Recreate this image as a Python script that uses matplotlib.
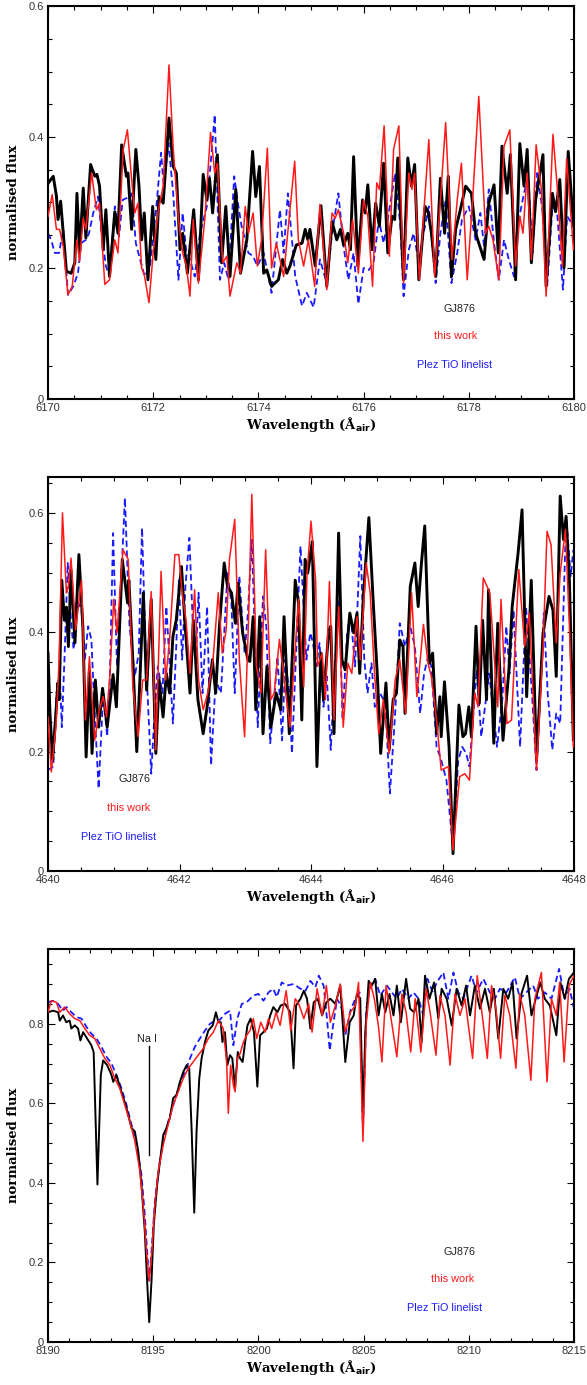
import numpy as np
import matplotlib
matplotlib.use("Agg")
import matplotlib.pyplot as plt
from matplotlib.ticker import MultipleLocator, FuncFormatter

# ---------------- data: (wavelength, normalised flux) ----------------
# panel 1: 6170-6180 A
p1_gj876 = [
    (6170.00, 0.329), (6170.10, 0.340), (6170.16, 0.310), (6170.19, 0.274), (6170.24, 0.302),
    (6170.35, 0.195), (6170.44, 0.192), (6170.51, 0.208), (6170.55, 0.314), (6170.60, 0.223),
    (6170.67, 0.322), (6170.72, 0.246), (6170.81, 0.358), (6170.89, 0.340), (6170.93, 0.343),
    (6170.98, 0.325), (6171.05, 0.228), (6171.10, 0.289), (6171.17, 0.187), (6171.27, 0.286),
    (6171.33, 0.253), (6171.40, 0.388), (6171.49, 0.340), (6171.52, 0.345), (6171.59, 0.259),
    (6171.67, 0.381), (6171.73, 0.325), (6171.78, 0.243), (6171.83, 0.284), (6171.90, 0.182),
    (6171.99, 0.294), (6172.05, 0.213), (6172.11, 0.309), (6172.19, 0.299), (6172.30, 0.429),
    (6172.38, 0.355), (6172.44, 0.345), (6172.51, 0.228), (6172.56, 0.253), (6172.65, 0.192),
    (6172.77, 0.289), (6172.86, 0.182), (6172.95, 0.343), (6173.02, 0.304), (6173.07, 0.337),
    (6173.13, 0.284), (6173.22, 0.373), (6173.30, 0.208), (6173.38, 0.294), (6173.46, 0.187),
    (6173.57, 0.320), (6173.66, 0.192), (6173.78, 0.243), (6173.89, 0.378), (6173.95, 0.309),
    (6174.02, 0.355), (6174.10, 0.192), (6174.16, 0.197), (6174.25, 0.172), (6174.38, 0.182),
    (6174.46, 0.213), (6174.54, 0.192), (6174.60, 0.203), (6174.72, 0.235), (6174.83, 0.238),
    (6174.89, 0.259), (6174.94, 0.243), (6174.98, 0.259), (6175.08, 0.203), (6175.19, 0.295),
    (6175.30, 0.172), (6175.40, 0.271), (6175.49, 0.243), (6175.56, 0.259), (6175.62, 0.235),
    (6175.70, 0.253), (6175.75, 0.228), (6175.81, 0.370), (6175.89, 0.203), (6175.98, 0.304),
    (6176.03, 0.284), (6176.08, 0.327), (6176.16, 0.228), (6176.23, 0.299), (6176.30, 0.264),
    (6176.38, 0.360), (6176.46, 0.223), (6176.54, 0.279), (6176.59, 0.274), (6176.65, 0.368),
    (6176.76, 0.182), (6176.84, 0.368), (6176.91, 0.325), (6176.97, 0.358), (6177.05, 0.182),
    (6177.17, 0.294), (6177.23, 0.284), (6177.29, 0.253), (6177.37, 0.187), (6177.46, 0.337),
    (6177.54, 0.253), (6177.61, 0.340), (6177.67, 0.187), (6177.75, 0.259), (6177.84, 0.289),
    (6177.94, 0.325), (6178.05, 0.314), (6178.13, 0.253), (6178.29, 0.213), (6178.38, 0.299),
    (6178.48, 0.327), (6178.56, 0.223), (6178.63, 0.386), (6178.73, 0.314), (6178.79, 0.373),
    (6178.89, 0.182), (6178.97, 0.390), (6179.05, 0.325), (6179.11, 0.381), (6179.19, 0.208),
    (6179.27, 0.304), (6179.41, 0.373), (6179.47, 0.172), (6179.59, 0.314), (6179.65, 0.286),
    (6179.73, 0.335), (6179.81, 0.200), (6179.89, 0.378), (6179.99, 0.264),
]
p1_thiswork = [
    (6170.00, 0.279), (6170.08, 0.312), (6170.16, 0.259), (6170.22, 0.259), (6170.29, 0.233),
    (6170.38, 0.159), (6170.46, 0.172), (6170.55, 0.243), (6170.60, 0.210), (6170.67, 0.276),
    (6170.72, 0.259), (6170.83, 0.345), (6170.92, 0.289), (6170.98, 0.299), (6171.08, 0.175),
    (6171.17, 0.182), (6171.27, 0.243), (6171.33, 0.223), (6171.43, 0.381), (6171.51, 0.411),
    (6171.59, 0.335), (6171.65, 0.284), (6171.71, 0.299), (6171.78, 0.200), (6171.83, 0.190),
    (6171.92, 0.147), (6172.00, 0.223), (6172.10, 0.289), (6172.19, 0.325), (6172.30, 0.510),
    (6172.38, 0.383), (6172.48, 0.274), (6172.56, 0.223), (6172.63, 0.203), (6172.70, 0.157),
    (6172.76, 0.274), (6172.86, 0.177), (6172.98, 0.274), (6173.09, 0.407), (6173.17, 0.345),
    (6173.22, 0.360), (6173.32, 0.208), (6173.40, 0.218), (6173.46, 0.157), (6173.59, 0.208),
    (6173.66, 0.192), (6173.75, 0.294), (6173.81, 0.253), (6173.90, 0.284), (6173.98, 0.203),
    (6174.06, 0.243), (6174.17, 0.383), (6174.25, 0.200), (6174.34, 0.238), (6174.48, 0.187),
    (6174.57, 0.264), (6174.69, 0.363), (6174.76, 0.243), (6174.86, 0.203), (6174.95, 0.243),
    (6175.07, 0.172), (6175.17, 0.297), (6175.30, 0.167), (6175.40, 0.284), (6175.46, 0.276),
    (6175.52, 0.289), (6175.62, 0.253), (6175.70, 0.208), (6175.79, 0.274), (6175.90, 0.192),
    (6176.00, 0.304), (6176.08, 0.279), (6176.17, 0.172), (6176.25, 0.330), (6176.30, 0.320),
    (6176.39, 0.417), (6176.49, 0.218), (6176.57, 0.381), (6176.67, 0.417), (6176.76, 0.177),
    (6176.86, 0.345), (6176.92, 0.320), (6176.97, 0.345), (6177.06, 0.182), (6177.14, 0.279),
    (6177.24, 0.396), (6177.35, 0.187), (6177.46, 0.304), (6177.56, 0.422), (6177.68, 0.213),
    (6177.78, 0.304), (6177.86, 0.360), (6177.97, 0.182), (6178.08, 0.314), (6178.19, 0.462),
    (6178.32, 0.253), (6178.38, 0.264), (6178.46, 0.243), (6178.57, 0.182), (6178.67, 0.386),
    (6178.78, 0.411), (6178.89, 0.203), (6178.97, 0.279), (6179.03, 0.253), (6179.11, 0.345),
    (6179.19, 0.213), (6179.28, 0.388), (6179.38, 0.320), (6179.47, 0.157), (6179.60, 0.404),
    (6179.68, 0.325), (6179.78, 0.203), (6179.86, 0.367), (6179.99, 0.228),
]
p1_plez = [
    (6170.00, 0.253), (6170.06, 0.243), (6170.13, 0.223), (6170.21, 0.223), (6170.29, 0.259),
    (6170.38, 0.159), (6170.48, 0.172), (6170.57, 0.192), (6170.63, 0.238), (6170.72, 0.243),
    (6170.78, 0.253), (6170.86, 0.284), (6170.95, 0.309), (6171.02, 0.253), (6171.10, 0.203),
    (6171.17, 0.187), (6171.27, 0.294), (6171.35, 0.248), (6171.42, 0.304), (6171.50, 0.307),
    (6171.59, 0.314), (6171.67, 0.238), (6171.75, 0.213), (6171.84, 0.187), (6171.94, 0.203),
    (6172.06, 0.294), (6172.15, 0.376), (6172.20, 0.325), (6172.29, 0.391), (6172.38, 0.314),
    (6172.48, 0.182), (6172.56, 0.284), (6172.63, 0.223), (6172.70, 0.213), (6172.79, 0.187),
    (6172.89, 0.253), (6173.02, 0.294), (6173.11, 0.376), (6173.17, 0.434), (6173.27, 0.182),
    (6173.35, 0.208), (6173.43, 0.182), (6173.54, 0.340), (6173.62, 0.294), (6173.68, 0.264),
    (6173.81, 0.223), (6173.90, 0.218), (6173.98, 0.203), (6174.10, 0.223), (6174.25, 0.162),
    (6174.41, 0.289), (6174.48, 0.223), (6174.56, 0.314), (6174.70, 0.187), (6174.83, 0.142),
    (6174.92, 0.162), (6175.05, 0.140), (6175.17, 0.213), (6175.30, 0.177), (6175.40, 0.253),
    (6175.52, 0.314), (6175.62, 0.233), (6175.71, 0.182), (6175.81, 0.223), (6175.90, 0.145),
    (6176.00, 0.200), (6176.10, 0.197), (6176.19, 0.208), (6176.29, 0.274), (6176.38, 0.238),
    (6176.48, 0.284), (6176.60, 0.345), (6176.70, 0.264), (6176.76, 0.157), (6176.86, 0.228),
    (6176.95, 0.253), (6177.05, 0.208), (6177.14, 0.253), (6177.24, 0.294), (6177.37, 0.177),
    (6177.46, 0.253), (6177.56, 0.304), (6177.67, 0.177), (6177.78, 0.223), (6177.87, 0.274),
    (6178.00, 0.294), (6178.13, 0.243), (6178.22, 0.284), (6178.29, 0.233), (6178.38, 0.320),
    (6178.48, 0.238), (6178.57, 0.182), (6178.67, 0.243), (6178.76, 0.213), (6178.86, 0.187),
    (6178.95, 0.274), (6179.05, 0.314), (6179.13, 0.340), (6179.21, 0.223), (6179.30, 0.345),
    (6179.40, 0.289), (6179.49, 0.172), (6179.59, 0.294), (6179.68, 0.284), (6179.79, 0.167),
    (6179.87, 0.279), (6179.99, 0.264),
]

# panel 2: 4640-4648 A
p2_gj876 = [
    (4640.00, 0.365), (4640.03, 0.264), (4640.07, 0.186), (4640.12, 0.264), (4640.15, 0.315),
    (4640.17, 0.287), (4640.21, 0.487), (4640.25, 0.420), (4640.28, 0.442), (4640.31, 0.376),
    (4640.35, 0.504), (4640.41, 0.382), (4640.47, 0.530), (4640.53, 0.410), (4640.58, 0.191),
    (4640.63, 0.337), (4640.67, 0.197), (4640.72, 0.320), (4640.77, 0.241), (4640.83, 0.306),
    (4640.90, 0.241), (4640.99, 0.329), (4641.04, 0.275), (4641.13, 0.522), (4641.21, 0.449),
    (4641.23, 0.487), (4641.29, 0.354), (4641.35, 0.200), (4641.40, 0.326), (4641.45, 0.466),
    (4641.50, 0.303), (4641.57, 0.455), (4641.64, 0.197), (4641.69, 0.320), (4641.75, 0.258),
    (4641.80, 0.331), (4641.85, 0.298), (4641.90, 0.393), (4641.95, 0.420), (4642.03, 0.510),
    (4642.08, 0.420), (4642.16, 0.298), (4642.21, 0.420), (4642.28, 0.287), (4642.36, 0.230),
    (4642.42, 0.275), (4642.50, 0.354), (4642.55, 0.298), (4642.61, 0.415), (4642.68, 0.516),
    (4642.73, 0.477), (4642.79, 0.466), (4642.85, 0.415), (4642.89, 0.482), (4642.96, 0.399),
    (4643.04, 0.354), (4643.07, 0.351), (4643.12, 0.426), (4643.16, 0.270), (4643.22, 0.426),
    (4643.27, 0.230), (4643.33, 0.343), (4643.39, 0.241), (4643.47, 0.298), (4643.54, 0.270),
    (4643.59, 0.426), (4643.67, 0.230), (4643.76, 0.487), (4643.81, 0.449), (4643.86, 0.253),
    (4643.91, 0.522), (4643.95, 0.499), (4644.02, 0.552), (4644.09, 0.175), (4644.15, 0.365),
    (4644.19, 0.287), (4644.27, 0.404), (4644.30, 0.410), (4644.35, 0.230), (4644.42, 0.566),
    (4644.47, 0.354), (4644.52, 0.337), (4644.59, 0.432), (4644.65, 0.399), (4644.70, 0.432),
    (4644.74, 0.331), (4644.80, 0.466), (4644.88, 0.592), (4644.95, 0.443), (4645.01, 0.326),
    (4645.06, 0.197), (4645.14, 0.315), (4645.19, 0.203), (4645.25, 0.287), (4645.30, 0.298),
    (4645.35, 0.387), (4645.40, 0.376), (4645.43, 0.264), (4645.51, 0.477), (4645.58, 0.516),
    (4645.63, 0.443), (4645.68, 0.516), (4645.73, 0.578), (4645.80, 0.348), (4645.85, 0.365),
    (4645.91, 0.230), (4645.96, 0.292), (4645.98, 0.225), (4646.03, 0.317), (4646.10, 0.208),
    (4646.16, 0.029), (4646.25, 0.278), (4646.31, 0.225), (4646.35, 0.230), (4646.40, 0.275),
    (4646.44, 0.225), (4646.51, 0.410), (4646.56, 0.281), (4646.61, 0.420), (4646.67, 0.287),
    (4646.70, 0.471), (4646.78, 0.214), (4646.84, 0.415), (4646.92, 0.219), (4647.01, 0.337),
    (4647.06, 0.443), (4647.15, 0.533), (4647.21, 0.605), (4647.28, 0.292), (4647.35, 0.487),
    (4647.43, 0.186), (4647.53, 0.399), (4647.62, 0.460), (4647.68, 0.437), (4647.73, 0.326),
    (4647.79, 0.628), (4647.84, 0.555), (4647.88, 0.594), (4647.93, 0.487), (4647.99, 0.220),
]
p2_thiswork = [
    (4640.00, 0.258), (4640.05, 0.166), (4640.12, 0.241), (4640.17, 0.354), (4640.22, 0.600),
    (4640.28, 0.466), (4640.31, 0.477), (4640.35, 0.524), (4640.42, 0.404), (4640.51, 0.487),
    (4640.57, 0.253), (4640.63, 0.359), (4640.71, 0.219), (4640.78, 0.270), (4640.84, 0.292),
    (4640.89, 0.258), (4640.94, 0.326), (4641.00, 0.455), (4641.05, 0.399), (4641.14, 0.538),
    (4641.22, 0.522), (4641.29, 0.309), (4641.37, 0.225), (4641.44, 0.320), (4641.50, 0.320),
    (4641.57, 0.468), (4641.64, 0.203), (4641.72, 0.502), (4641.79, 0.320), (4641.85, 0.388),
    (4641.93, 0.530), (4641.99, 0.530), (4642.04, 0.466), (4642.10, 0.420), (4642.16, 0.331),
    (4642.23, 0.471), (4642.29, 0.320), (4642.36, 0.270), (4642.43, 0.298), (4642.51, 0.354),
    (4642.59, 0.466), (4642.65, 0.365), (4642.71, 0.404), (4642.76, 0.522), (4642.84, 0.589),
    (4642.91, 0.354), (4642.99, 0.225), (4643.05, 0.420), (4643.10, 0.631), (4643.17, 0.343),
    (4643.24, 0.298), (4643.31, 0.538), (4643.39, 0.287), (4643.44, 0.298), (4643.52, 0.388),
    (4643.61, 0.303), (4643.68, 0.241), (4643.81, 0.455), (4643.89, 0.309), (4643.94, 0.499),
    (4644.00, 0.586), (4644.07, 0.487), (4644.10, 0.343), (4644.17, 0.365), (4644.22, 0.287),
    (4644.28, 0.485), (4644.35, 0.253), (4644.42, 0.443), (4644.49, 0.241), (4644.56, 0.348),
    (4644.62, 0.331), (4644.70, 0.426), (4644.75, 0.354), (4644.84, 0.516), (4644.90, 0.466),
    (4644.96, 0.343), (4645.03, 0.230), (4645.10, 0.287), (4645.19, 0.197), (4645.28, 0.320),
    (4645.35, 0.354), (4645.44, 0.264), (4645.53, 0.466), (4645.61, 0.292), (4645.71, 0.413),
    (4645.78, 0.348), (4645.83, 0.326), (4645.91, 0.253), (4645.98, 0.169), (4646.09, 0.175),
    (4646.16, 0.035), (4646.26, 0.158), (4646.34, 0.163), (4646.41, 0.152), (4646.49, 0.298),
    (4646.54, 0.275), (4646.62, 0.491), (4646.72, 0.466), (4646.79, 0.354), (4646.84, 0.275),
    (4646.89, 0.455), (4646.98, 0.247), (4647.05, 0.253), (4647.16, 0.505), (4647.25, 0.376),
    (4647.32, 0.432), (4647.43, 0.169), (4647.53, 0.376), (4647.59, 0.569), (4647.65, 0.547),
    (4647.73, 0.382), (4647.79, 0.499), (4647.87, 0.572), (4647.93, 0.410), (4647.99, 0.208),
]
p2_plez = [
    (4640.00, 0.169), (4640.08, 0.175), (4640.13, 0.298), (4640.18, 0.331), (4640.21, 0.241),
    (4640.25, 0.354), (4640.30, 0.516), (4640.35, 0.420), (4640.39, 0.371), (4640.44, 0.455),
    (4640.51, 0.437), (4640.56, 0.354), (4640.61, 0.410), (4640.66, 0.388), (4640.71, 0.264),
    (4640.77, 0.138), (4640.84, 0.298), (4640.90, 0.225), (4640.94, 0.320), (4640.99, 0.566),
    (4641.05, 0.343), (4641.10, 0.455), (4641.17, 0.625), (4641.24, 0.410), (4641.32, 0.326),
    (4641.38, 0.365), (4641.43, 0.575), (4641.49, 0.354), (4641.57, 0.163), (4641.62, 0.264),
    (4641.67, 0.343), (4641.74, 0.298), (4641.80, 0.443), (4641.86, 0.326), (4641.90, 0.247),
    (4641.95, 0.376), (4641.99, 0.487), (4642.04, 0.354), (4642.09, 0.477), (4642.15, 0.558),
    (4642.21, 0.393), (4642.25, 0.365), (4642.29, 0.466), (4642.35, 0.298), (4642.42, 0.443),
    (4642.48, 0.177), (4642.55, 0.320), (4642.63, 0.298), (4642.73, 0.499), (4642.79, 0.449),
    (4642.84, 0.298), (4642.91, 0.494), (4642.99, 0.365), (4643.04, 0.432), (4643.10, 0.555),
    (4643.19, 0.241), (4643.27, 0.460), (4643.32, 0.410), (4643.38, 0.214), (4643.44, 0.287),
    (4643.49, 0.359), (4643.56, 0.219), (4643.61, 0.354), (4643.67, 0.298), (4643.71, 0.197),
    (4643.84, 0.544), (4643.93, 0.354), (4643.99, 0.399), (4644.03, 0.382), (4644.08, 0.343),
    (4644.13, 0.382), (4644.19, 0.275), (4644.24, 0.326), (4644.30, 0.203), (4644.37, 0.354),
    (4644.43, 0.455), (4644.48, 0.253), (4644.55, 0.399), (4644.60, 0.432), (4644.67, 0.343),
    (4644.75, 0.561), (4644.81, 0.354), (4644.86, 0.298), (4644.92, 0.348), (4644.97, 0.275),
    (4645.05, 0.298), (4645.13, 0.281), (4645.20, 0.130), (4645.28, 0.264), (4645.35, 0.415),
    (4645.43, 0.376), (4645.51, 0.410), (4645.58, 0.376), (4645.66, 0.264), (4645.72, 0.331),
    (4645.78, 0.359), (4645.83, 0.343), (4645.91, 0.208), (4645.98, 0.186), (4646.06, 0.152),
    (4646.16, 0.040), (4646.24, 0.186), (4646.30, 0.208), (4646.36, 0.197), (4646.41, 0.175),
    (4646.52, 0.337), (4646.59, 0.225), (4646.71, 0.331), (4646.83, 0.208), (4646.91, 0.287),
    (4646.97, 0.410), (4647.02, 0.331), (4647.08, 0.437), (4647.18, 0.208), (4647.27, 0.443),
    (4647.36, 0.298), (4647.43, 0.169), (4647.54, 0.432), (4647.60, 0.298), (4647.67, 0.203),
    (4647.73, 0.264), (4647.79, 0.247), (4647.88, 0.594), (4647.95, 0.494), (4647.99, 0.538),
]

# panel 3: 8190-8215 A (Na I line)
p3_gj876 = [
    (8190.00, 0.829), (8190.24, 0.833), (8190.48, 0.829), (8190.56, 0.808), (8190.71, 0.821),
    (8190.87, 0.804), (8191.03, 0.808), (8191.11, 0.788), (8191.27, 0.796), (8191.43, 0.788),
    (8191.54, 0.758), (8191.67, 0.779), (8191.86, 0.763), (8192.06, 0.746), (8192.17, 0.729),
    (8192.35, 0.396), (8192.51, 0.671), (8192.62, 0.708), (8192.81, 0.696), (8193.02, 0.671),
    (8193.10, 0.654), (8193.25, 0.671), (8193.49, 0.629), (8193.73, 0.588), (8193.97, 0.538),
    (8194.13, 0.529), (8194.29, 0.479), (8194.44, 0.396), (8194.60, 0.279), (8194.71, 0.154),
    (8194.81, 0.050), (8194.92, 0.154), (8195.03, 0.296), (8195.19, 0.396), (8195.32, 0.454),
    (8195.48, 0.521), (8195.63, 0.538), (8195.79, 0.563), (8195.95, 0.613), (8196.11, 0.621),
    (8196.27, 0.654), (8196.43, 0.679), (8196.59, 0.696), (8196.71, 0.688), (8196.83, 0.529),
    (8196.95, 0.325), (8197.06, 0.529), (8197.19, 0.663), (8197.30, 0.713), (8197.46, 0.754),
    (8197.62, 0.783), (8197.83, 0.796), (8197.98, 0.829), (8198.10, 0.804), (8198.21, 0.804),
    (8198.29, 0.754), (8198.41, 0.779), (8198.52, 0.696), (8198.65, 0.721), (8198.76, 0.713),
    (8198.89, 0.638), (8199.02, 0.729), (8199.13, 0.713), (8199.25, 0.704), (8199.37, 0.754),
    (8199.48, 0.796), (8199.63, 0.813), (8199.79, 0.779), (8199.95, 0.642), (8200.08, 0.771),
    (8200.24, 0.779), (8200.40, 0.788), (8200.56, 0.821), (8200.71, 0.842), (8200.90, 0.829),
    (8201.06, 0.846), (8201.27, 0.850), (8201.51, 0.829), (8201.67, 0.688), (8201.79, 0.846),
    (8202.00, 0.863), (8202.16, 0.883), (8202.31, 0.863), (8202.47, 0.788), (8202.63, 0.854),
    (8202.82, 0.863), (8203.03, 0.821), (8203.23, 0.854), (8203.42, 0.863), (8203.66, 0.850),
    (8203.89, 0.896), (8204.13, 0.704), (8204.34, 0.804), (8204.53, 0.821), (8204.68, 0.875),
    (8204.84, 0.863), (8204.97, 0.563), (8205.08, 0.779), (8205.24, 0.908), (8205.39, 0.896),
    (8205.55, 0.913), (8205.71, 0.821), (8205.87, 0.875), (8206.03, 0.829), (8206.23, 0.875),
    (8206.42, 0.821), (8206.58, 0.896), (8206.77, 0.804), (8207.02, 0.913), (8207.21, 0.838),
    (8207.40, 0.829), (8207.61, 0.863), (8207.76, 0.754), (8207.92, 0.921), (8208.13, 0.863),
    (8208.35, 0.904), (8208.55, 0.813), (8208.71, 0.888), (8208.95, 0.863), (8209.19, 0.796),
    (8209.42, 0.888), (8209.66, 0.846), (8209.87, 0.896), (8210.06, 0.821), (8210.29, 0.896),
    (8210.53, 0.838), (8210.77, 0.888), (8211.00, 0.829), (8211.19, 0.888), (8211.40, 0.763),
    (8211.64, 0.888), (8211.87, 0.863), (8212.08, 0.904), (8212.27, 0.763), (8212.50, 0.875),
    (8212.77, 0.921), (8212.98, 0.821), (8213.18, 0.863), (8213.40, 0.904), (8213.61, 0.863),
    (8213.85, 0.846), (8214.16, 0.771), (8214.35, 0.904), (8214.56, 0.863), (8214.76, 0.913),
    (8215.00, 0.929),
]
p3_thiswork = [
    (8190.00, 0.829), (8190.16, 0.858), (8190.40, 0.854), (8190.56, 0.829), (8190.79, 0.842),
    (8191.03, 0.825), (8191.27, 0.813), (8191.51, 0.808), (8191.75, 0.788), (8191.98, 0.771),
    (8192.22, 0.763), (8192.46, 0.738), (8192.70, 0.713), (8192.94, 0.696), (8193.17, 0.663),
    (8193.41, 0.638), (8193.65, 0.596), (8193.89, 0.554), (8194.13, 0.504), (8194.37, 0.429),
    (8194.56, 0.321), (8194.68, 0.229), (8194.81, 0.154), (8194.94, 0.229), (8195.08, 0.346),
    (8195.24, 0.429), (8195.48, 0.496), (8195.71, 0.546), (8195.95, 0.596), (8196.19, 0.629),
    (8196.43, 0.663), (8196.67, 0.688), (8196.90, 0.704), (8197.14, 0.721), (8197.38, 0.738),
    (8197.62, 0.763), (8197.86, 0.779), (8198.10, 0.808), (8198.33, 0.788), (8198.49, 0.704),
    (8198.57, 0.575), (8198.68, 0.696), (8198.81, 0.646), (8198.89, 0.629), (8199.00, 0.713),
    (8199.13, 0.725), (8199.29, 0.754), (8199.44, 0.771), (8199.60, 0.783), (8199.76, 0.813),
    (8199.92, 0.763), (8200.11, 0.804), (8200.32, 0.779), (8200.48, 0.813), (8200.63, 0.788),
    (8200.84, 0.829), (8201.03, 0.796), (8201.32, 0.883), (8201.54, 0.783), (8201.75, 0.863),
    (8201.92, 0.850), (8202.16, 0.813), (8202.39, 0.850), (8202.55, 0.779), (8202.79, 0.888),
    (8203.03, 0.821), (8203.23, 0.896), (8203.42, 0.804), (8203.66, 0.846), (8203.89, 0.900),
    (8204.13, 0.779), (8204.37, 0.829), (8204.61, 0.846), (8204.76, 0.904), (8204.97, 0.504),
    (8205.13, 0.804), (8205.32, 0.904), (8205.51, 0.863), (8205.71, 0.792), (8205.87, 0.704),
    (8206.07, 0.896), (8206.26, 0.829), (8206.58, 0.717), (8206.82, 0.875), (8207.02, 0.829),
    (8207.24, 0.729), (8207.45, 0.863), (8207.72, 0.729), (8207.97, 0.888), (8208.16, 0.829),
    (8208.44, 0.721), (8208.63, 0.871), (8208.87, 0.821), (8209.11, 0.696), (8209.34, 0.875),
    (8209.58, 0.821), (8209.82, 0.863), (8210.18, 0.713), (8210.40, 0.921), (8210.64, 0.821),
    (8210.88, 0.713), (8211.08, 0.896), (8211.29, 0.838), (8211.51, 0.713), (8211.71, 0.871),
    (8211.95, 0.821), (8212.24, 0.688), (8212.42, 0.875), (8212.66, 0.821), (8212.95, 0.658),
    (8213.14, 0.863), (8213.45, 0.929), (8213.72, 0.654), (8213.93, 0.863), (8214.16, 0.821),
    (8214.32, 0.904), (8214.53, 0.704), (8214.76, 0.896), (8215.00, 0.921),
]
p3_plez = [
    (8190.00, 0.854), (8190.24, 0.858), (8190.48, 0.850), (8190.71, 0.833), (8190.87, 0.842),
    (8191.11, 0.829), (8191.35, 0.817), (8191.59, 0.813), (8191.83, 0.792), (8192.06, 0.775),
    (8192.30, 0.763), (8192.54, 0.742), (8192.78, 0.717), (8193.02, 0.700), (8193.25, 0.671),
    (8193.49, 0.638), (8193.73, 0.596), (8193.97, 0.546), (8194.21, 0.496), (8194.44, 0.421),
    (8194.60, 0.321), (8194.71, 0.229), (8194.81, 0.154), (8194.92, 0.229), (8195.08, 0.354),
    (8195.29, 0.446), (8195.51, 0.513), (8195.76, 0.563), (8196.03, 0.608), (8196.27, 0.650),
    (8196.51, 0.679), (8196.75, 0.713), (8196.98, 0.742), (8197.22, 0.763), (8197.46, 0.783),
    (8197.70, 0.800), (8197.94, 0.808), (8198.17, 0.810), (8198.41, 0.825), (8198.65, 0.833),
    (8198.81, 0.746), (8199.00, 0.813), (8199.21, 0.850), (8199.44, 0.854), (8199.76, 0.871),
    (8200.00, 0.875), (8200.24, 0.858), (8200.48, 0.879), (8200.71, 0.888), (8200.87, 0.867),
    (8201.11, 0.904), (8201.35, 0.896), (8201.67, 0.900), (8202.00, 0.888), (8202.24, 0.883),
    (8202.47, 0.908), (8202.71, 0.892), (8202.87, 0.921), (8203.10, 0.896), (8203.26, 0.813),
    (8203.39, 0.733), (8203.55, 0.796), (8203.74, 0.863), (8203.97, 0.838), (8204.13, 0.771),
    (8204.37, 0.833), (8204.61, 0.863), (8204.81, 0.879), (8204.97, 0.529), (8205.13, 0.838),
    (8205.32, 0.896), (8205.55, 0.913), (8205.79, 0.871), (8206.11, 0.896), (8206.34, 0.879),
    (8206.58, 0.863), (8206.82, 0.888), (8207.13, 0.863), (8207.37, 0.879), (8207.61, 0.863),
    (8207.84, 0.821), (8208.03, 0.913), (8208.29, 0.879), (8208.48, 0.904), (8208.79, 0.929),
    (8209.03, 0.863), (8209.27, 0.929), (8209.50, 0.879), (8209.74, 0.863), (8210.13, 0.921),
    (8210.37, 0.879), (8210.69, 0.913), (8211.00, 0.879), (8211.24, 0.863), (8211.48, 0.888),
    (8211.79, 0.879), (8212.19, 0.917), (8212.43, 0.863), (8212.74, 0.879), (8213.06, 0.896),
    (8213.29, 0.863), (8213.61, 0.879), (8213.93, 0.863), (8214.29, 0.938), (8214.56, 0.863),
    (8214.79, 0.888), (8215.00, 0.838),
]

# ---------------- plotting ----------------
W, H = 587, 1385
fig = plt.figure(figsize=(W / 100, H / 100), dpi=100)

ann_font = ["Liberation Sans", "DejaVu Sans"]
lab_font = ["DejaVu Serif"]

panels = [
    dict(series=(p1_gj876, p1_thiswork, p1_plez), xlim=(6170, 6180), ylim=(0, 0.6),
         xmaj=2, xmin=0.5, top=6, bot=399, blk_lw=2.1,
         labels=((6177.83, 0.137), (6177.75, 0.096), (6177.72, 0.052))),
    dict(series=(p2_gj876, p2_thiswork, p2_plez), xlim=(4640, 4648), ylim=(0, 0.66),
         xmaj=2, xmin=0.5, top=477, bot=871, blk_lw=2.1,
         labels=((4641.32, 0.154), (4641.22, 0.105), (4641.08, 0.057))),
    dict(series=(p3_gj876, p3_thiswork, p3_plez), xlim=(8190, 8215), ylim=(0, 0.988),
         xmaj=5, xmin=1, top=949, bot=1342, blk_lw=1.4,
         labels=((8209.58, 0.226), (8209.25, 0.158), (8208.87, 0.085))),
]

for i, p in enumerate(panels):
    ax = fig.add_axes([48 / W, 1 - p["bot"] / H, (574 - 48) / W, (p["bot"] - p["top"]) / H])
    gj, tw, pl = [np.array(s).T for s in p["series"]]
    ax.plot(pl[0], pl[1], color="#1a1aff", lw=1.3, ls=(0, (3.5, 2)), zorder=2)
    ax.plot(gj[0], gj[1], color="black", lw=p["blk_lw"], zorder=3, solid_joinstyle="round")
    ax.plot(tw[0], tw[1], color="#ff1a1a", lw=1.1, zorder=4, solid_joinstyle="round")

    ax.set_xlim(*p["xlim"])
    ax.set_ylim(*p["ylim"])
    ax.xaxis.set_major_locator(MultipleLocator(p["xmaj"]))
    ax.xaxis.set_minor_locator(MultipleLocator(p["xmin"]))
    ax.yaxis.set_major_locator(MultipleLocator(0.2))
    ax.yaxis.set_minor_locator(MultipleLocator(0.05))
    ax.yaxis.set_major_formatter(FuncFormatter(lambda v, pos: f"{v:g}"))
    ax.tick_params(which="both", direction="in", top=True, right=True,
                   labelsize=8, labelcolor="#333333", width=0.8, pad=3)
    ax.tick_params(which="major", length=5)
    ax.tick_params(which="minor", length=3)
    for lab in ax.get_xticklabels() + ax.get_yticklabels():
        lab.set_family(ann_font)
    for s in ax.spines.values():
        s.set_linewidth(1.5)

    ax.set_xlabel(r"Wavelength (Å$_{\mathbf{air}}$)", fontsize=9.5, fontweight="bold",
                  family=lab_font, labelpad=1)
    ax.set_ylabel("normalised flux", fontsize=9.5, fontweight="bold",
                  family=lab_font, labelpad=6)

    for (x, y), txt, col in zip(p["labels"], ["GJ876", "this work", "Plez TiO linelist"],
                                ["#222222", "#ff1a1a", "#1a1aff"]):
        ax.text(x, y, txt, color=col, fontsize=7.8, ha="center", va="center", family=ann_font)

    if i == 2:
        ax.text(8194.7, 0.761, "Na I", fontsize=7.8, ha="center", va="center",
                color="#222222", family=ann_font)
        ax.plot([8194.8, 8194.8], [0.745, 0.47], color="black", lw=1.0)

fig.savefig("out.png", dpi=100)
